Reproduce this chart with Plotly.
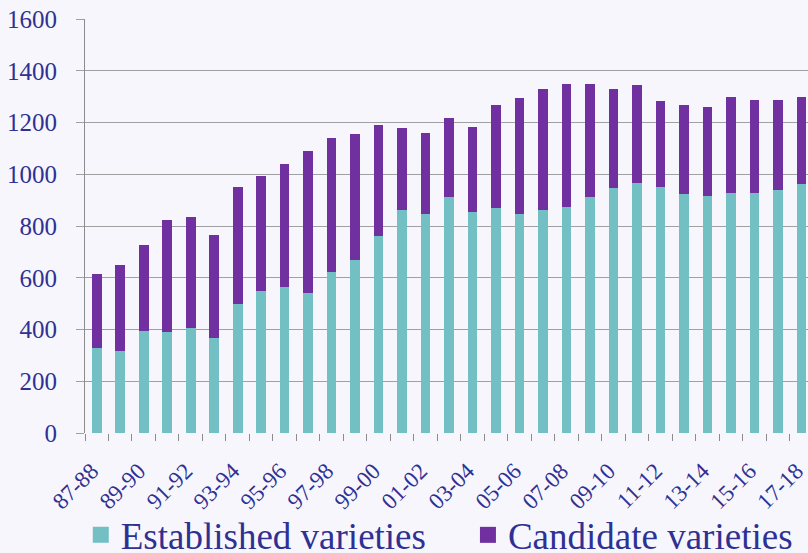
import plotly.graph_objects as go

categories = ["87-88", "88-89", "89-90", "90-91", "91-92", "92-93", "93-94", "94-95",
              "95-96", "96-97", "97-98", "98-99", "99-00", "00-01", "01-02", "02-03",
              "03-04", "04-05", "05-06", "06-07", "07-08", "08-09", "09-10", "10-11",
              "11-12", "12-13", "13-14", "14-15", "15-16", "16-17", "17-18"]

established = [327, 315, 396, 389, 407, 369, 499, 550, 565, 542, 623, 667, 762, 860,
               847, 914, 855, 871, 846, 863, 873, 914, 945, 967, 951, 924, 917, 929,
               928, 941, 963]

totals = [614, 650, 725, 824, 836, 767, 950, 995, 1041, 1089, 1139, 1155, 1191, 1180,
          1159, 1219, 1183, 1267, 1294, 1331, 1350, 1349, 1330, 1345, 1285, 1267, 1261,
          1300, 1288, 1288, 1299]

candidate = [t - e for t, e in zip(totals, established)]

y_ticks = [0, 200, 400, 600, 800, 1000, 1200, 1400, 1600]

TEAL = "#72BFC4"
PURPLE = "#7030A0"
TEXT = "#2E3192"
BG = "#F7F6FD"
FONT = "Liberation Serif"

idx = list(range(len(categories)))

fig = go.Figure()
fig.add_trace(go.Bar(x=idx, y=established, name="Established varieties",
                     marker=dict(color=TEAL, line=dict(width=0)), showlegend=False))
fig.add_trace(go.Bar(x=idx, y=candidate, name="Candidate varieties",
                     marker=dict(color=PURPLE, line=dict(width=0)), showlegend=False))
# legend proxies
fig.add_trace(go.Scatter(x=[None], y=[None], mode="markers",
                         name="Established varieties\u00a0\u00a0\u00a0\u00a0",
                         marker=dict(symbol="square", size=18, color=TEAL)))
fig.add_trace(go.Scatter(x=[None], y=[None], mode="markers", name="Candidate varieties",
                         marker=dict(symbol="square", size=18, color=PURPLE)))

fig.update_layout(
    barmode="stack",
    bargap=0.59,
    width=808, height=553,
    margin=dict(l=85, r=0, t=19, b=120, autoexpand=False),
    paper_bgcolor=BG,
    plot_bgcolor=BG,
    font=dict(family=FONT, color=TEXT),
    legend=dict(orientation="h", x=0.490, xanchor="center", y=-0.322, yanchor="bottom",
                font=dict(size=37, family=FONT, color=TEXT), bgcolor="rgba(0,0,0,0)",
                traceorder="normal", itemwidth=30, tracegroupgap=0),
)

fig.update_xaxes(
    range=[-0.5, 30.28],
    automargin=False,
    tickmode="array",
    tickvals=idx[::2],
    ticktext=categories[::2],
    tickangle=-45,
    ticks="",
    tickfont=dict(size=23, family=FONT, color=TEXT),
    ticklabelstandoff=19,
    ticklabelshift=-5,
    ticklabeloverflow="allow",
    showgrid=False,
    zeroline=False,
    showline=False,
    minor=dict(ticks="outside", tick0=-0.5, dtick=1, ticklen=7, tickcolor="#8C8C8C",
               tickwidth=1, showgrid=False),
)

fig.update_yaxes(
    range=[0, 1600],
    automargin=False,
    tickmode="array",
    tickvals=y_ticks,
    ticks="outside",
    ticklen=8,
    tickcolor="#A0A0A0",
    tickfont=dict(size=25, family=FONT, color=TEXT),
    showgrid=True,
    gridcolor="#A0A0A0",
    gridwidth=1,
    zeroline=False,
    showline=True,
    linecolor="#8C8C8C",
    linewidth=1,
    ticklabelstandoff=14,
)

fig.write_html(
    "out.html",
    config={"displayModeBar": False},
    post_script="document.body.style.margin='0';document.body.style.background='" + BG + "';",
)
